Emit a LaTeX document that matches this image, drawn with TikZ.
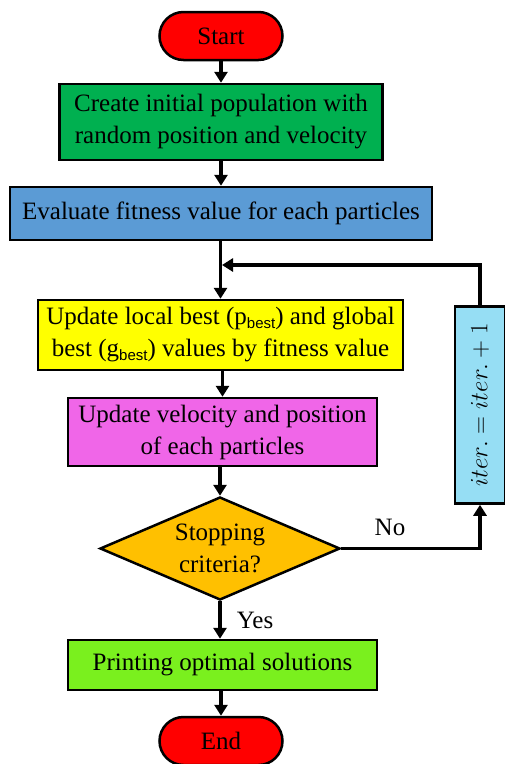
\documentclass[tikz,border=0pt]{standalone}
\usepackage{fontspec}
\setmainfont{Liberation Serif}
\newfontfamily\subsans{Liberation Sans}
\newcommand{\bestsub}{\raisebox{-3.5pt}{\subsans\fontsize{15}{15}\selectfont best}}
\usetikzlibrary{shapes.geometric,arrows.meta,positioning}
\definecolor{cstart}{RGB}{255,0,0}
\definecolor{cgreen}{RGB}{0,176,80}
\definecolor{cblue}{RGB}{91,155,213}
\definecolor{cyellow}{RGB}{255,255,0}
\definecolor{cmag}{RGB}{240,102,232}
\definecolor{corange}{RGB}{255,192,0}
\definecolor{clight}{RGB}{150,222,244}
\definecolor{clime}{RGB}{122,240,30}
\tikzset{
  base/.style={draw=black, line width=2.5pt, font=\fontsize{25}{32}\selectfont, align=center, inner sep=0pt},
  term/.style={base, rounded corners=24pt, fill=cstart, minimum width=123pt, minimum height=48pt},
  proc/.style={base, rectangle},
  dec/.style={base, diamond, fill=corange, minimum width=240pt, minimum height=103pt, aspect=2.33},
  conn/.style={line width=3.2pt, -{Triangle[length=11pt,width=13pt]}},
  lab/.style={font=\fontsize{25}{30}\selectfont}
}
\begin{document}
\begin{tikzpicture}[x=1pt,y=-1pt]
\useasboundingbox (0,0) rectangle (505,764);
\node[term] (start) at (221,36) {Start};
\node[proc, fill=cgreen, minimum width=323pt, minimum height=76pt] (init) at (221,122) {Create initial population with\\random position and velocity};
\node[proc, fill=cblue, minimum width=422pt, minimum height=53pt] (eval) at (221,213.5) {Evaluate fitness value for each particles};
\node[proc, fill=cyellow, minimum width=365pt, minimum height=70pt] (upd) at (220.5,335) {Update local best (p\bestsub) and global\\best (g\bestsub) values by fitness value};
\node[proc, fill=cmag, minimum width=309pt, minimum height=68pt] (vel) at (222.5,432) {Update velocity and position\\of each particles};
\node[dec] (stop) at (220,548.5) {Stopping\\criteria?};
\node[proc, fill=clight, minimum width=50pt, minimum height=197pt] (iter) at (480,405) {};
\node[proc, fill=clime, minimum width=309pt, minimum height=50pt] (print) at (222.5,665) {Printing optimal solutions};
\node[term] (end) at (221,741) {End};
\node[rotate=90, font=\fontsize{25}{30}\selectfont] (itertext) at (iter.center) {$iter. = iter. + 1$};
\coordinate (j) at (221,265);
\coordinate (nr) at (480,548.5);
\coordinate (tr) at (480,265);

\draw[conn] (start) -- (init);
\draw[conn] (init) -- (eval);
\draw[conn] (eval.south -| upd.north) -- (upd);
\draw[conn] (upd.south -| vel.north) -- (vel);
\draw[conn] (vel.south -| stop.north) -- (stop);
\draw[conn] (stop) -- node[lab, right=12pt] {Yes} (stop.south |- print.north);
\draw[conn] (print.south -| end.north) -- (end);
\draw[conn] (stop.east) -- (nr) -- (iter.south);
\draw[conn] (iter.north) -- (tr) -- ([xshift=1pt]j);
\node[lab] (no) at (390,527) {No};
\end{tikzpicture}
\end{document}
